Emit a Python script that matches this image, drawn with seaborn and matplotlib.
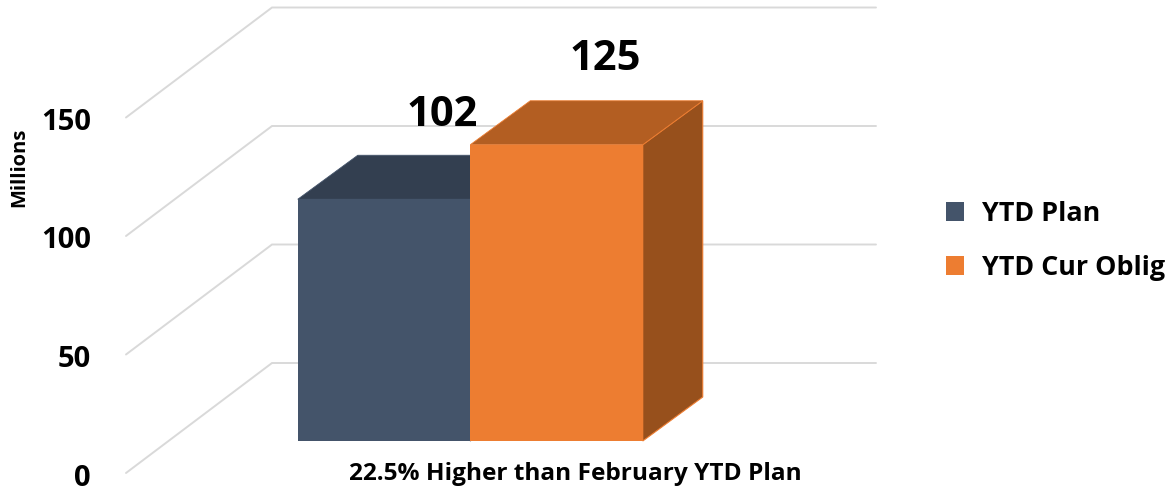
import pandas as pd
import matplotlib
matplotlib.use("Agg")
import matplotlib.pyplot as plt
import seaborn as sns
from matplotlib.patches import Patch, Polygon

# =========================================
# 1. DATA
# =========================================
series = ["YTD Plan", "YTD Cur Oblig"]
values = [102, 125]
y_ticks = [0, 50, 100, 150]
bar_labels = ["102", "125"]
y_title = "Millions"
x_title = "22.5% Higher than February YTD Plan"

front_colors = ["#44546A", "#ED7D31"]
top_colors = ["#333F50", "#B35E22"]
side_colors = ["#333F50", "#97501C"]
edge_colors = ["#44546A", "#ED7D31"]
GRID = "#D9D9D9"

# =========================================
# 2. LAYOUT (pixels of the 1174x492 figure)
# =========================================
W, H = 1174, 492
PX_X = 172.5   # px per category
PX_Y = 2.37    # px per million
X0 = 384.0     # px of first category centre
Y0 = 441.0     # px of value 0 on the bars' front
LABEL_SHIFT_X = [58, 49]  # px from bar centre to its value label
LABEL_SHIFT_Y = [19, 21]  # px above the bar's back edge

sns.set_theme(style="white")
plt.rcParams["font.family"] = ["Open Sans", "DejaVu Sans"]
plt.rcParams["font.weight"] = "bold"

fig = plt.figure(figsize=(W / 100, H / 100), dpi=100)
ax = fig.add_axes([0, 0, 1, 1])

df = pd.DataFrame({"series": series, "value": values})
sns.barplot(data=df, x="series", y="value", hue="series", hue_order=series,
            palette=front_colors, width=1.0, dodge=False, legend=False,
            saturation=1, linewidth=0, ax=ax, zorder=5)

ax.set_xlim(-X0 / PX_X, (W - X0) / PX_X)
ax.set_ylim((Y0 - H) / PX_Y, Y0 / PX_Y)
ax.axis("off")

# depth of bars and walls, in data units
bar_dx, bar_dy = 60 / PX_X, 44 / PX_Y
wall_x0, wall_x1 = (126 - X0) / PX_X, (272 - X0) / PX_X
wall_end = (876 - X0) / PX_X
wall_y0, wall_y1 = (Y0 - 473) / PX_Y, (Y0 - 363) / PX_Y

# =========================================
# 3. GRID ON WALLS
# =========================================
for t in y_ticks:
    ax.plot([wall_x0, wall_x1, wall_end], [t + wall_y0, t + wall_y1, t + wall_y1],
            color=GRID, lw=1.4, zorder=1, solid_joinstyle="miter")
    ax.text((91 - X0) / PX_X, t + wall_y0 - 5 / PX_Y, str(t), ha="right", va="center",
            fontsize=21, color="black", fontweight="bold")

# =========================================
# 4. 3D FACES OF THE BARS
# =========================================
for i, (bar, v) in enumerate(zip(ax.patches, values)):
    left = bar.get_x()
    right = left + bar.get_width()
    bar.set_zorder(3 + 3 * i)
    top = Polygon([(left, v), (right, v), (right + bar_dx, v + bar_dy), (left + bar_dx, v + bar_dy)],
                  closed=True, facecolor=top_colors[i], edgecolor=edge_colors[i], lw=0.6,
                  zorder=2 + 3 * i)
    side = Polygon([(right, 0), (right, v), (right + bar_dx, v + bar_dy), (right + bar_dx, bar_dy)],
                   closed=True, facecolor=side_colors[i], edgecolor=edge_colors[i], lw=0.8,
                   zorder=2 + 3 * i)
    ax.add_patch(side)
    ax.add_patch(top)
    ax.text(i + LABEL_SHIFT_X[i] / PX_X, v + bar_dy + LABEL_SHIFT_Y[i] / PX_Y, bar_labels[i],
            ha="center", va="bottom", fontsize=30, color="black", fontweight="bold", zorder=12)

# =========================================
# 5. TEXT & LEGEND
# =========================================
ax.text((19 - X0) / PX_X, (Y0 - 167) / PX_Y, y_title, rotation=90, ha="center", va="center",
        fontsize=14.5, color="black", fontweight="bold")
ax.text((575 - X0) / PX_X, (Y0 - 474) / PX_Y, x_title, ha="center", va="center",
        fontsize=17.6, color="black", fontweight="bold")

handles = [Patch(facecolor=c, edgecolor="none", label=s) for c, s in zip(front_colors, series)]
fig.legend(handles=handles, loc="center left", bbox_to_anchor=(946 / W, 1 - 241 / H),
           frameon=False, fontsize=19.4, handlelength=0.68, handleheight=0.68,
           handletextpad=0.67, labelspacing=1.05, borderpad=0, borderaxespad=0,
           labelcolor="black")

plt.savefig("out.png", dpi=100)
plt.close()
